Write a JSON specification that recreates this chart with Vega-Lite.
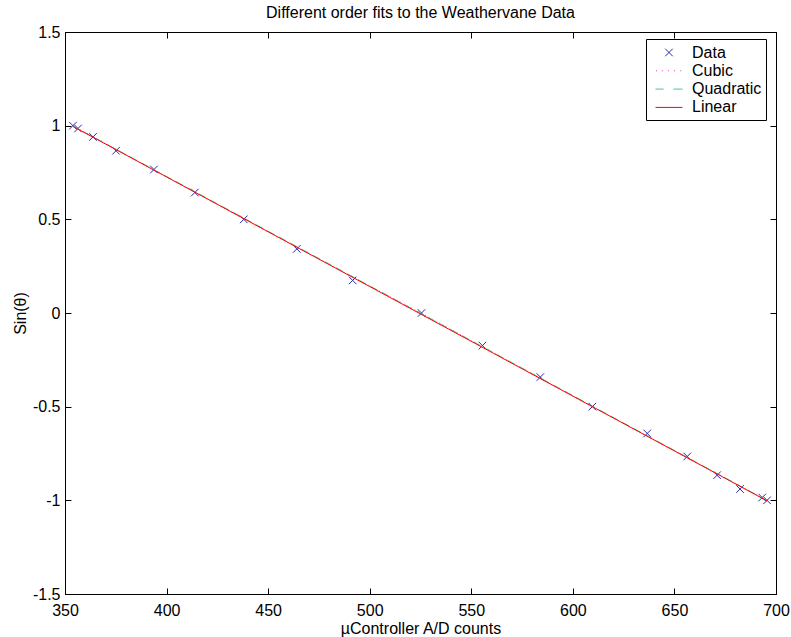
{
  "$schema": "https://vega.github.io/schema/vega-lite/v6.json",
  "width": 711,
  "height": 562,
  "autosize": "none",
  "padding": {"left": 65, "top": 32, "right": 15, "bottom": 43},
  "background": "white",
  "title": {"text": "Different order fits to the Weathervane Data", "font": "Liberation Sans", "fontSize": 16, "fontWeight": "normal", "color": "black", "anchor": "middle", "offset": 3},
  "config": {
    "view": {"stroke": "black", "strokeWidth": 1},
    "axis": {"grid": false, "labelFlush": false, "domainColor": "black", "tickColor": "black", "tickSize": -6, "labelFont": "Liberation Sans", "labelFontSize": 16, "labelColor": "black", "titleFont": "Liberation Sans", "titleFontSize": 16, "titleFontWeight": "normal", "titleColor": "black", "labelExpr": "replace(format(datum.value, '~g'), '−', '-')"}
  },
  "datasets": {
    "pts": [
      {"series": "Data", "x": 353.9, "y": 1.0},
      {"series": "Data", "x": 356.4, "y": 0.985},
      {"series": "Data", "x": 363.8, "y": 0.94},
      {"series": "Data", "x": 375.1, "y": 0.866},
      {"series": "Data", "x": 393.8, "y": 0.766},
      {"series": "Data", "x": 413.9, "y": 0.643},
      {"series": "Data", "x": 438.0, "y": 0.5},
      {"series": "Data", "x": 464.1, "y": 0.342},
      {"series": "Data", "x": 491.6, "y": 0.174},
      {"series": "Data", "x": 525.5, "y": 0.0},
      {"series": "Data", "x": 555.5, "y": -0.174},
      {"series": "Data", "x": 584.0, "y": -0.342},
      {"series": "Data", "x": 609.6, "y": -0.5},
      {"series": "Data", "x": 636.6, "y": -0.643},
      {"series": "Data", "x": 656.3, "y": -0.766},
      {"series": "Data", "x": 671.0, "y": -0.866},
      {"series": "Data", "x": 682.3, "y": -0.94},
      {"series": "Data", "x": 693.2, "y": -0.985},
      {"series": "Data", "x": 695.6, "y": -1.0}
    ],
    "fits": [
      {"series": "Cubic", "x": 353.9, "y": 1.0},
      {"series": "Cubic", "x": 438.0, "y": 0.502},
      {"series": "Cubic", "x": 525.5, "y": -0.002},
      {"series": "Cubic", "x": 609.6, "y": -0.5},
      {"series": "Cubic", "x": 695.6, "y": -1.0},
      {"series": "Quadratic", "x": 353.9, "y": 0.998},
      {"series": "Quadratic", "x": 525.5, "y": -0.004},
      {"series": "Quadratic", "x": 695.6, "y": -1.001},
      {"series": "Linear", "x": 353.9, "y": 0.996},
      {"series": "Linear", "x": 695.6, "y": -1.003}
    ]
  },
  "layer": [
    {
      "data": {"name": "pts"},
      "mark": {"type": "point", "filled": false, "size": 324, "strokeWidth": 1, "opacity": 1},
      "encoding": {
        "x": {"field": "x", "type": "quantitative", "scale": {"domain": [350, 700], "nice": false, "zero": false}, "axis": {"orient": "bottom", "title": "µController A/D counts", "values": [350, 400, 450, 500, 550, 600, 650, 700], "labelPadding": 14, "titlePadding": 2}},
        "y": {"field": "y", "type": "quantitative", "scale": {"domain": [-1.5, 1.5], "nice": false, "zero": false}, "axis": {"orient": "left", "title": "Sin(θ)", "values": [-1.5, -1, -0.5, 0, 0.5, 1, 1.5], "labelPadding": 11, "titlePadding": 4}},
        "color": {"field": "series", "type": "nominal", "scale": {"domain": ["Data", "Cubic", "Quadratic", "Linear"], "range": ["#2a2ab0", "#e050a8", "#44c98a", "#ff0000"]}, "legend": {"title": null, "orient": "none", "legendX": 581, "legendY": 7, "padding": 4, "strokeColor": "black", "fillColor": "white", "labelFont": "Liberation Sans", "labelFontSize": 16, "labelColor": "black", "symbolSize": 324, "symbolStrokeWidth": 1, "symbolOffset": 9.5, "labelOffset": 13.5, "rowPadding": 0.3}},
        "shape": {"field": "series", "type": "nominal", "scale": {"domain": ["Data", "Cubic", "Quadratic", "Linear"], "range": ["M-0.42,-0.42L0.42,0.42M0.42,-0.42L-0.42,0.42", "M-1.45,0L-1.33,0M-0.8,0L-0.68,0M-0.13,0L-0.01,0M0.55,0L0.67,0M1.25,0L1.37,0", "M-1.5,0L-0.6,0M0.5,0L1.5,0", "M-1.5,0L1.5,0"]}}
      }
    },
    {
      "data": {"name": "fits"},
      "transform": [{"filter": "datum.series === 'Cubic'"}],
      "mark": {"type": "line", "color": "#e050a8", "strokeWidth": 1, "strokeDash": [1, 3]},
      "encoding": {
        "x": {"field": "x", "type": "quantitative", "axis": null},
        "y": {"field": "y", "type": "quantitative", "axis": null}
      }
    },
    {
      "data": {"name": "fits"},
      "transform": [{"filter": "datum.series === 'Quadratic'"}],
      "mark": {"type": "line", "color": "#44c98a", "strokeWidth": 1, "strokeDash": [8, 5]},
      "encoding": {
        "x": {"field": "x", "type": "quantitative", "axis": null},
        "y": {"field": "y", "type": "quantitative", "axis": null}
      }
    },
    {
      "data": {"name": "fits"},
      "transform": [{"filter": "datum.series === 'Linear'"}],
      "mark": {"type": "line", "color": "#ff0000", "strokeWidth": 1},
      "encoding": {
        "x": {"field": "x", "type": "quantitative", "axis": {"orient": "top", "labels": false, "title": null, "values": [350, 400, 450, 500, 550, 600, 650, 700]}},
        "y": {"field": "y", "type": "quantitative", "axis": {"orient": "right", "labels": false, "title": null, "values": [-1.5, -1, -0.5, 0, 0.5, 1, 1.5]}}
      }
    }
  ],
  "resolve": {"axis": {"x": "independent", "y": "independent"}}
}
